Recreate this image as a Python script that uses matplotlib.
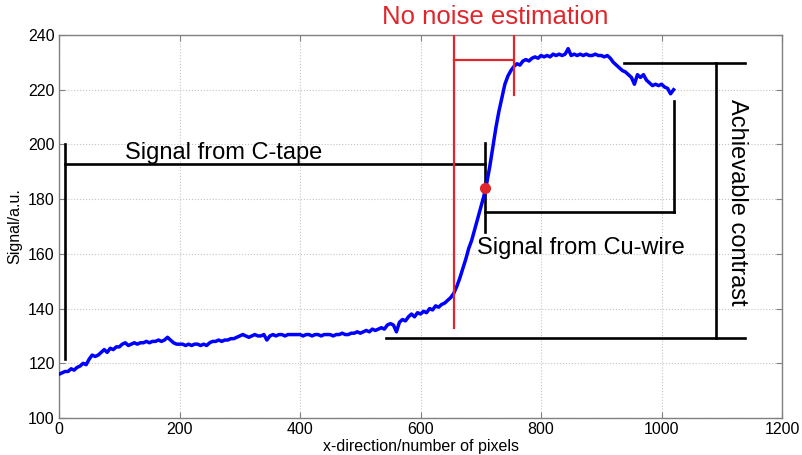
import matplotlib.pyplot as plt
import numpy as np

plt.rcParams['font.family'] = ['Liberation Sans', 'DejaVu Sans']

# line profile (step 5 px)
pixel_x = list(range(0, 1025, 5))
signal = [
    116, 116.5, 117, 117, 118, 117.5, 118.5, 119, 120, 119.5,
    121.5, 123, 122.5, 123, 124, 125, 124, 125.5, 125, 126,
    126, 127, 127.5, 126.5, 127, 127.5, 127, 127.5, 127.5, 128,
    127.5, 128, 128, 128.5, 128, 128.5, 129.5, 128.5, 127.5, 127,
    127, 127, 126.5, 127, 126.5, 127, 127, 126.5, 127, 126.5,
    127.5, 128, 128, 128.5, 128, 128.5, 128.5, 129, 129, 129.5,
    130, 130.5, 130, 129.5, 130, 130.5, 130, 130, 130.5, 128.5,
    130, 130.5, 130, 130.5, 130.5, 130, 130.5, 130.5, 130.5, 130.5,
    130.5, 130, 130.5, 130.5, 130, 130.5, 130.5, 130, 130.5, 130.5,
    130.5, 130, 130.5, 130.5, 131, 130.5, 130.5, 131, 131, 131.5,
    131, 131.5, 132, 131.5, 132.5, 132, 132.5, 133, 132.5, 134,
    134.5, 134, 131.5, 135, 136, 135.5, 137, 138, 137, 138.5,
    138, 139, 138.5, 140, 139.5, 141, 140.5, 141.5, 142, 143,
    144, 145.5, 148, 151, 154.5, 158, 162, 165, 169, 173,
    177, 181, 186, 192, 199, 206, 212, 217, 222, 225,
    227, 228.5, 229.5, 229, 230.5, 231, 230.5, 231.5, 232, 231.5,
    232.5, 232, 232.5, 232, 233, 232.5, 233, 232.5, 233, 235,
    232.5, 233, 232.5, 233, 232.5, 233, 232.5, 232.5, 233, 232.5,
    232.5, 232, 232.5, 231.5, 230, 229, 228, 227, 226.5, 225.5,
    224.5, 222, 225.5, 224.5, 225.5, 223.5, 222.5, 221.5, 222, 221.5,
    222, 221, 220.5, 218.5, 220,
]

# annotation brackets (data units)
ctape_x, ctape_top, ctape_bot = 10, 200, 121.5
ctape_y, edge_x = 192.7, 707
edge_top, edge_bot = 200.5, 168
cu_y, cu_end_x, cu_top = 175.3, 1020, 216
noise_x0, noise_x1, noise_y = 655, 755, 230.8
noise_bot0, noise_bot1 = 133, 218
contrast_hi, contrast_lo, contrast_x = 229.7, 129.2, 1090
hi_x0, lo_x0, bracket_x1 = 938, 543, 1139
dot_x, dot_y = 707, 184

black = 'black'
red = '#e0262c'

fig = plt.figure(figsize=(8.02, 4.55), dpi=100)
ax = fig.add_axes([0.0736, 0.0813, 0.9015, 0.8418])

ax.plot(pixel_x, signal, color='#0000ff', lw=2.5, zorder=3)

lw = 1.9
ax.plot([ctape_x, ctape_x], [ctape_top, ctape_bot], color=black, lw=lw)
ax.plot([ctape_x, edge_x], [ctape_y, ctape_y], color=black, lw=lw)
ax.plot([edge_x, edge_x], [edge_top, edge_bot], color=black, lw=lw)
ax.plot([edge_x, cu_end_x], [cu_y, cu_y], color=black, lw=lw)
ax.plot([cu_end_x, cu_end_x], [cu_top, cu_y], color=black, lw=lw)
ax.plot([hi_x0, bracket_x1], [contrast_hi, contrast_hi], color=black, lw=lw)
ax.plot([lo_x0, bracket_x1], [contrast_lo, contrast_lo], color=black, lw=lw)
ax.plot([contrast_x, contrast_x], [contrast_hi, contrast_lo], color=black, lw=lw)

ax.plot([noise_x0, noise_x0], [240, noise_bot0], color=red, lw=1.6, zorder=4)
ax.plot([noise_x1, noise_x1], [240, noise_bot1], color=red, lw=1.6, zorder=4)
ax.plot([noise_x0, noise_x1], [noise_y, noise_y], color=red, lw=1.6, zorder=4)
ax.plot(dot_x, dot_y, 'o', color=red, ms=7, zorder=5)

ax.text(110, 197, 'Signal from C-tape', fontsize=17, va='center')
ax.text(694, 162, 'Signal from Cu-wire', fontsize=17, va='center')
ax.text(1126, 179, 'Achievable contrast', fontsize=17, rotation=-90,
        ha='center', va='center')
ax.text(724, 246.5, 'No noise estimation', fontsize=18.5, color=red,
        ha='center', va='center', clip_on=False)

ax.set_xlim(0, 1200)
ax.set_ylim(100, 240)
ax.set_xticks(np.arange(0, 1201, 200))
ax.set_yticks(np.arange(100, 241, 20))
ax.grid(True, ls=':', color='#c4c4c4', lw=0.8)
ax.set_axisbelow(True)
ax.tick_params(direction='in', top=True, right=True, length=4,
               color='#808080', labelsize=11.5, pad=3)
for s in ax.spines.values():
    s.set_color('#808080')
    s.set_linewidth(1)

ax.set_xlabel('x-direction/number of pixels', fontsize=11.5, labelpad=1)
ax.set_ylabel('Signal/a.u.', fontsize=11.5, labelpad=4)

fig.savefig('out.png', dpi=100)
